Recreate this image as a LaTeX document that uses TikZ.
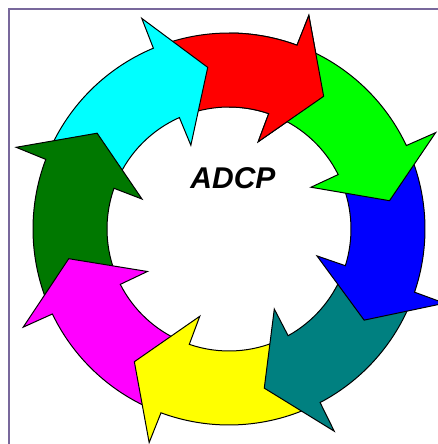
\documentclass[tikz,border=0pt]{standalone}
\usepackage{fontspec}
\setmainfont{Liberation Sans}
\usepackage{tikz}
\definecolor{framepurple}{RGB}{120,104,156}
\definecolor{ringred}{RGB}{255,0,0}
\definecolor{ringgreen}{RGB}{0,255,0}
\definecolor{ringblue}{RGB}{0,0,255}
\definecolor{ringteal}{RGB}{0,128,128}
\definecolor{ringyellow}{RGB}{255,255,0}
\definecolor{ringmagenta}{RGB}{255,0,255}
\definecolor{ringdarkgreen}{RGB}{0,120,0}
\definecolor{ringcyan}{RGB}{0,255,255}
\tikzstyle{ringpiece} = [draw=black, line width=1pt, line join=miter]
\tikzstyle{outerframe} = [draw=framepurple, line width=2pt]
\tikzstyle{labeltext} = [font=\fontsize{30}{36}\selectfont\bfseries\itshape]

% tip angle, angular length, fill colour
\newcommand{\ringarrow}[3]{%
  \begin{scope}[rotate=#1]
    \path[ringpiece, fill=#3] (#2:196pt) arc[start angle=#2, end angle=15.2, radius=196pt]
      -- (15:228pt) -- (0:163pt) -- (17:92pt) -- (16.5:122pt)
      arc[start angle=16.5, end angle=#2, radius=122pt] -- cycle;
  \end{scope}}

\begin{document}
\begin{tikzpicture}[x=1pt, y=1pt]
  \useasboundingbox (-229,-215) rectangle (209,229);
  \clip (-229,-215) rectangle (209,229);
  \draw[outerframe] (-220,220) rectangle (240,-240);

  \coordinate (hub) at (0,0);

  % clockwise ring, each head lies on the next tail
  \ringarrow{54.5}{55.5}{ringred}
  \ringarrow{97.5}{59}{ringcyan}
  \ringarrow{144}{59}{ringdarkgreen}
  \ringarrow{190.5}{56.5}{ringmagenta}
  \ringarrow{234.5}{60.5}{ringyellow}
  \ringarrow{282.5}{56}{ringteal}
  \ringarrow{326}{56.5}{ringblue}
  \ringarrow{10}{57}{ringgreen}
  % red head again, over the green tail
  \begin{scope}
    \clip (hub) -- (40:300pt) -- (90:300pt) -- cycle;
    \ringarrow{54.5}{55.5}{ringred}
  \end{scope}

  \node (name) [labeltext] at (4,51) {ADCP};
\end{tikzpicture}
\end{document}
